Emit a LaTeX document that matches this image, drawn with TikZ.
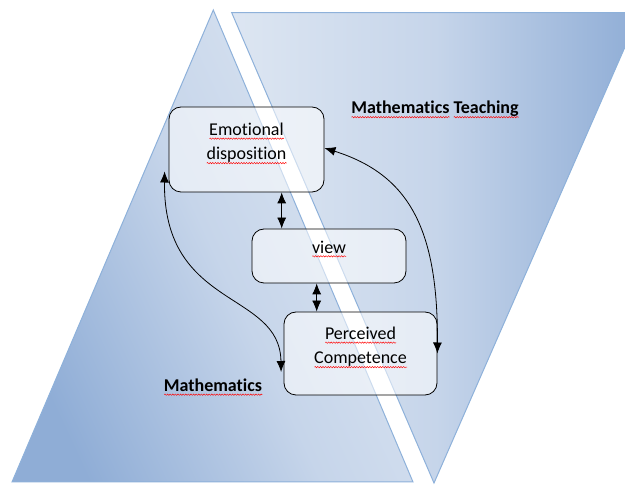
\documentclass[tikz,border=0pt]{standalone}
\usepackage{fontspec}
\setmainfont{Carlito}[Ligatures={NoCommon}]
\usetikzlibrary{arrows.meta,decorations.pathmorphing}
\definecolor{edgeblue}{HTML}{8EB1DA}
\definecolor{darkblue}{HTML}{8FADD6}
\definecolor{midblue}{HTML}{C6D5EA}
\definecolor{lightblue}{HTML}{DDE6F2}
\newsavebox\spellbox
\newcommand\spellchk[1]{\sbox\spellbox{#1}\leavevmode\rlap{\tikz[baseline=0pt,x=1pt,y=1pt]\draw[red,line width=0.45pt,decorate,decoration={snake,amplitude=0.7pt,segment length=2.6pt}] (0pt,-3.2pt) -- (\the\wd\spellbox,-3.2pt);}\usebox\spellbox}
\begin{document}
\begin{tikzpicture}[x=1pt,y=-1pt,
  box/.style={draw=black, line width=0.8pt, rounded corners=12pt, fill=white, fill opacity=0.55},
  lbl/.style={align=center, font=\fontsize{18}{24.5}\selectfont, inner sep=0pt},
  titlelbl/.style={font=\bfseries\fontsize{18}{22}\selectfont, inner sep=0pt},
  link/.style={line width=0.8pt, {Latex[length=11pt,width=9pt]}-{Latex[length=11pt,width=9pt]}},
  region/.style={draw=edgeblue, line width=1pt}]
\useasboundingbox (0,0) rectangle (625,486);
\begin{scope}
\clip (0,0) rectangle (625,486);
% left region (Mathematics)
\shadedraw[region, top color=lightblue, bottom color=darkblue, middle color=midblue, shading angle=-65]
  (213.3,10) -- (413,482) -- (12,482) -- cycle;
% right region (Mathematics Teaching)
\shadedraw[region, top color=darkblue, bottom color=lightblue, middle color=midblue, shading angle=-90]
  (231.7,12.7) -- (640,12.7) -- (434,483) -- cycle;
\end{scope}
% boxes
\node[box, minimum width=155pt, minimum height=85pt] (emot) at (246.5,149.5) {};
\node[box, minimum width=154pt, minimum height=54pt] (view) at (329,256) {};
\node[box, minimum width=153pt, minimum height=83pt] (perc) at (360.5,353.5) {};
\node[lbl] (emott) at ([yshift=6pt]emot.center) {\spellchk{Emotional}\\\spellchk{disposition}};
\node[lbl] (viewt) at ([yshift=7pt]view.center) {\spellchk{view}};
\node[lbl] (perct) at ([yshift=6pt]perc.center) {\spellchk{Perceived}\\\spellchk{Competence}};
% region titles
\node[titlelbl, anchor=base] (mteach) at (435,114) {\spellchk{Mathematics} \spellchk{Teaching}};
\node[titlelbl, anchor=base] (math) at (213,391.5) {\spellchk{Mathematics}};
% connectors
\draw[link] ([xshift=35.2pt]emot.south) -- ([xshift=-47.3pt]view.north);
\draw[link] ([xshift=-12.3pt]view.south) -- ([xshift=-43.8pt]perc.north);
\draw[link] ([xshift=-4pt,yshift=-22pt]emot.west) .. controls (163,310) and (280,290) .. ([xshift=-2.5pt,yshift=-18.5pt]perc.west);
\draw[link] ([yshift=1.5pt]emot.east) .. controls (410,175) and (438,230) .. (perc.east);
\end{tikzpicture}
\end{document}
